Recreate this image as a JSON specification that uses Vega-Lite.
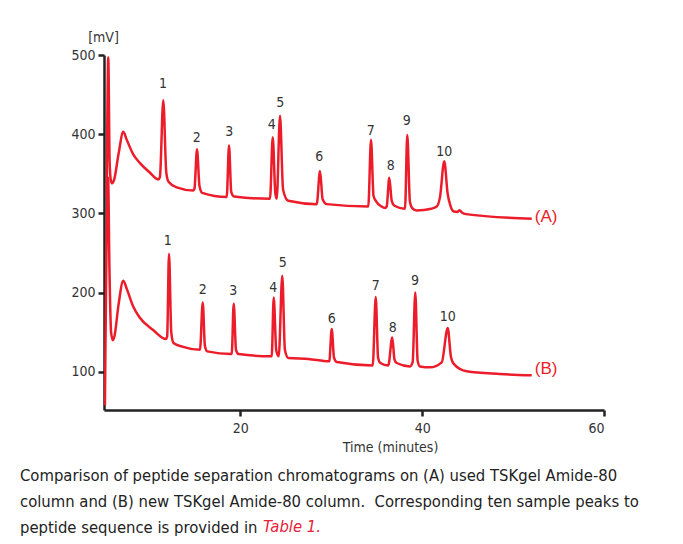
{
  "$schema": "https://vega.github.io/schema/vega-lite/v6.json",
  "width": 500,
  "height": 355,
  "autosize": {"type": "none"},
  "padding": {"left": 104, "top": 55, "right": 79, "bottom": 134},
  "background": "white",
  "config": {"view": {"stroke": null}, "font": "'Liberation Sans Narrow', 'Arial Narrow', 'DejaVu Sans Condensed', 'Liberation Sans', sans-serif"},
  "title": {
    "text": ["Comparison of peptide separation chromatograms on (A) used TSKgel Amide-80", "column and (B) new TSKgel Amide-80 column.\u00a0 Corresponding ten sample peaks to", "peptide sequence is provided in"],
    "subtitle": "Table 1.",
    "orient": "bottom",
    "anchor": "start",
    "frame": "group",
    "dx": -84,
    "offset": 14,
    "font": "'Liberation Sans Narrow', 'Arial Narrow', 'DejaVu Sans Condensed', 'Liberation Sans', sans-serif",
    "fontSize": 16.5,
    "fontWeight": "normal",
    "color": "#222222",
    "lineHeight": 26,
    "subtitleFont": "'Liberation Sans Narrow', 'Arial Narrow', 'DejaVu Sans Condensed', 'Liberation Sans', sans-serif",
    "subtitleFontSize": 16.5,
    "subtitleFontStyle": "italic",
    "subtitleColor": "#e8203a",
    "subtitlePadding": -18,
    "encode": {"subtitle": {"update": {"dx": {"value": 159}}}}
  },
  "datasets": {
    "traces": [
      {"series": "A", "t": 5.3, "mv": 320},
      {"series": "A", "t": 5.47, "mv": 497},
      {"series": "A", "t": 5.62, "mv": 365},
      {"series": "A", "t": 5.75, "mv": 342},
      {"series": "A", "t": 5.9, "mv": 338},
      {"series": "A", "t": 6.1, "mv": 342},
      {"series": "A", "t": 6.6, "mv": 375},
      {"series": "A", "t": 7.12, "mv": 403},
      {"series": "A", "t": 7.5, "mv": 393},
      {"series": "A", "t": 8.2, "mv": 375},
      {"series": "A", "t": 8.96, "mv": 363.5},
      {"series": "A", "t": 10.0, "mv": 352},
      {"series": "A", "t": 10.97, "mv": 343},
      {"series": "A", "t": 11.15, "mv": 346},
      {"series": "A", "t": 11.52, "mv": 443},
      {"series": "A", "t": 11.85, "mv": 352},
      {"series": "A", "t": 12.1, "mv": 340},
      {"series": "A", "t": 13.0, "mv": 333},
      {"series": "A", "t": 14.82, "mv": 329},
      {"series": "A", "t": 14.95, "mv": 331},
      {"series": "A", "t": 15.23, "mv": 381},
      {"series": "A", "t": 15.5, "mv": 335},
      {"series": "A", "t": 15.8, "mv": 326},
      {"series": "A", "t": 18.5, "mv": 320.7},
      {"series": "A", "t": 18.75, "mv": 385.8},
      {"series": "A", "t": 19.0, "mv": 327},
      {"series": "A", "t": 19.3, "mv": 321.5},
      {"series": "A", "t": 23.26, "mv": 318.5},
      {"series": "A", "t": 23.56, "mv": 396.3},
      {"series": "A", "t": 23.85, "mv": 325},
      {"series": "A", "t": 24.0, "mv": 318.5},
      {"series": "A", "t": 24.36, "mv": 423.2},
      {"series": "A", "t": 24.7, "mv": 330},
      {"series": "A", "t": 25.27, "mv": 316},
      {"series": "A", "t": 28.4, "mv": 311.8},
      {"series": "A", "t": 28.76, "mv": 353.5},
      {"series": "A", "t": 29.05, "mv": 318},
      {"series": "A", "t": 29.5, "mv": 311.8},
      {"series": "A", "t": 34.07, "mv": 308.8},
      {"series": "A", "t": 34.37, "mv": 393},
      {"series": "A", "t": 34.65, "mv": 322},
      {"series": "A", "t": 34.95, "mv": 315},
      {"series": "A", "t": 35.5, "mv": 309},
      {"series": "A", "t": 35.91, "mv": 306.8},
      {"series": "A", "t": 36.1, "mv": 309},
      {"series": "A", "t": 36.38, "mv": 345},
      {"series": "A", "t": 36.65, "mv": 316},
      {"series": "A", "t": 36.95, "mv": 309.8},
      {"series": "A", "t": 38.11, "mv": 306},
      {"series": "A", "t": 38.36, "mv": 398.9},
      {"series": "A", "t": 38.65, "mv": 315},
      {"series": "A", "t": 38.9, "mv": 306.8},
      {"series": "A", "t": 39.4, "mv": 303.8},
      {"series": "A", "t": 41.0, "mv": 306},
      {"series": "A", "t": 41.6, "mv": 308.8},
      {"series": "A", "t": 41.95, "mv": 320},
      {"series": "A", "t": 42.43, "mv": 366},
      {"series": "A", "t": 42.8, "mv": 325},
      {"series": "A", "t": 43.1, "mv": 310},
      {"series": "A", "t": 43.5, "mv": 302.5},
      {"series": "A", "t": 43.9, "mv": 302},
      {"series": "A", "t": 44.1, "mv": 304},
      {"series": "A", "t": 44.4, "mv": 301},
      {"series": "A", "t": 44.8, "mv": 299.2},
      {"series": "A", "t": 52.05, "mv": 293.3},
      {"series": "B", "t": 5.1, "mv": 58},
      {"series": "B", "t": 5.45, "mv": 345},
      {"series": "B", "t": 5.6, "mv": 230},
      {"series": "B", "t": 5.78, "mv": 150},
      {"series": "B", "t": 5.97, "mv": 140},
      {"series": "B", "t": 6.15, "mv": 145},
      {"series": "B", "t": 6.6, "mv": 185},
      {"series": "B", "t": 7.12, "mv": 215},
      {"series": "B", "t": 7.5, "mv": 205},
      {"series": "B", "t": 8.2, "mv": 183},
      {"series": "B", "t": 8.88, "mv": 169.4},
      {"series": "B", "t": 10.4, "mv": 153},
      {"series": "B", "t": 11.82, "mv": 141.6},
      {"series": "B", "t": 11.95, "mv": 145},
      {"series": "B", "t": 12.15, "mv": 249.2},
      {"series": "B", "t": 12.4, "mv": 150},
      {"series": "B", "t": 12.65, "mv": 136.6},
      {"series": "B", "t": 13.6, "mv": 132},
      {"series": "B", "t": 15.56, "mv": 128.1},
      {"series": "B", "t": 15.86, "mv": 187.8},
      {"series": "B", "t": 16.1, "mv": 133},
      {"series": "B", "t": 16.35, "mv": 126},
      {"series": "B", "t": 19.05, "mv": 122.7},
      {"series": "B", "t": 19.27, "mv": 186.1},
      {"series": "B", "t": 19.52, "mv": 128},
      {"series": "B", "t": 19.8, "mv": 122.7},
      {"series": "B", "t": 23.45, "mv": 119.7},
      {"series": "B", "t": 23.67, "mv": 194.1},
      {"series": "B", "t": 23.95, "mv": 127},
      {"series": "B", "t": 24.22, "mv": 119.7},
      {"series": "B", "t": 24.61, "mv": 221.4},
      {"series": "B", "t": 24.9, "mv": 128},
      {"series": "B", "t": 25.27, "mv": 117.7},
      {"series": "B", "t": 27.47, "mv": 116.4},
      {"series": "B", "t": 29.78, "mv": 113.4},
      {"series": "B", "t": 30.05, "mv": 154.2},
      {"series": "B", "t": 30.3, "mv": 118},
      {"series": "B", "t": 30.6, "mv": 112.6},
      {"series": "B", "t": 34.56, "mv": 108.3},
      {"series": "B", "t": 34.89, "mv": 194.6},
      {"series": "B", "t": 35.15, "mv": 118},
      {"series": "B", "t": 35.4, "mv": 111.3},
      {"series": "B", "t": 36.27, "mv": 108.3},
      {"series": "B", "t": 36.71, "mv": 143.6},
      {"series": "B", "t": 36.95, "mv": 116},
      {"series": "B", "t": 37.2, "mv": 111.3},
      {"series": "B", "t": 38.66, "mv": 107},
      {"series": "B", "t": 38.95, "mv": 112},
      {"series": "B", "t": 39.24, "mv": 200.4},
      {"series": "B", "t": 39.5, "mv": 114},
      {"series": "B", "t": 39.75, "mv": 107},
      {"series": "B", "t": 40.86, "mv": 105.8},
      {"series": "B", "t": 42.15, "mv": 112.1},
      {"series": "B", "t": 42.81, "mv": 155.5},
      {"series": "B", "t": 43.15, "mv": 120},
      {"series": "B", "t": 43.45, "mv": 110.5},
      {"series": "B", "t": 44.9, "mv": 100.8},
      {"series": "B", "t": 48.56, "mv": 97.5},
      {"series": "B", "t": 52.05, "mv": 95.7}
    ],
    "peaks": [
      {"series": "A", "label": "1", "t": 11.49, "mv": 463.8},
      {"series": "A", "label": "2", "t": 15.2, "mv": 395.5},
      {"series": "A", "label": "3", "t": 18.78, "mv": 403},
      {"series": "A", "label": "4", "t": 23.45, "mv": 412.2},
      {"series": "A", "label": "5", "t": 24.39, "mv": 439.8},
      {"series": "A", "label": "6", "t": 28.68, "mv": 371.5},
      {"series": "A", "label": "7", "t": 34.34, "mv": 404.5},
      {"series": "A", "label": "8", "t": 36.54, "mv": 360.4},
      {"series": "A", "label": "9", "t": 38.3, "mv": 416.3},
      {"series": "A", "label": "10", "t": 42.43, "mv": 377.2},
      {"series": "B", "label": "1", "t": 12.0, "mv": 264.7},
      {"series": "B", "label": "2", "t": 15.86, "mv": 202.9},
      {"series": "B", "label": "3", "t": 19.22, "mv": 201.6},
      {"series": "B", "label": "4", "t": 23.62, "mv": 205.9},
      {"series": "B", "label": "5", "t": 24.66, "mv": 237.5},
      {"series": "B", "label": "6", "t": 30.05, "mv": 167.2},
      {"series": "B", "label": "7", "t": 34.89, "mv": 208.8},
      {"series": "B", "label": "8", "t": 36.76, "mv": 155.5},
      {"series": "B", "label": "9", "t": 39.21, "mv": 214.3},
      {"series": "B", "label": "10", "t": 42.81, "mv": 168.9}
    ],
    "ends": [
      {"series": "A", "label": "(A)", "t": 52.05, "mv": 296},
      {"series": "B", "label": "(B)", "t": 52.05, "mv": 104}
    ]
  },
  "layer": [
    {
      "data": {"name": "traces"},
      "mark": {"type": "line", "interpolate": "monotone", "color": "#ec1c2a", "strokeWidth": 2.5, "clip": true},
      "encoding": {
        "x": {
          "field": "t", "type": "quantitative",
          "scale": {"domain": [5, 60], "nice": false, "zero": false},
          "axis": {
            "values": [20, 40, 60],
            "title": "Time (minutes)",
            "titleFontSize": 14,
            "titleFontWeight": "normal",
            "titleColor": "#333333",
            "titleX": 286,
            "titleY": 37,
            "titleAlign": "center",
            "titleBaseline": "middle",
            "labelFontSize": 14,
            "labelColor": "#333333",
            "labelPadding": 5,
            "grid": false,
            "domainColor": "#222222",
            "domainWidth": 2.5,
            "tickColor": "#222222",
            "tickWidth": 2.5,
            "tickSize": 6
          }
        },
        "y": {
          "field": "mv", "type": "quantitative",
          "scale": {"domain": [52, 500], "nice": false, "zero": false},
          "axis": {
            "values": [100, 200, 300, 400, 500],
            "title": "[mV]",
            "titleFontSize": 14,
            "titleFontWeight": "normal",
            "titleColor": "#333333",
            "titleAngle": 0,
            "titleX": -1,
            "titleY": -18,
            "titleAlign": "center",
            "titleBaseline": "middle",
            "labelFontSize": 14,
            "labelColor": "#333333",
            "labelPadding": 3,
            "grid": false,
            "domainColor": "#222222",
            "domainWidth": 2.5,
            "tickColor": "#222222",
            "tickWidth": 2.5,
            "tickSize": 6
          }
        },
        "detail": {"field": "series"}
      }
    },
    {
      "data": {"name": "peaks"},
      "mark": {"type": "text", "fontSize": 14, "color": "#333333", "baseline": "middle", "align": "center"},
      "encoding": {
        "x": {"field": "t", "type": "quantitative"},
        "y": {"field": "mv", "type": "quantitative"},
        "text": {"field": "label"}
      }
    },
    {
      "data": {"name": "ends"},
      "mark": {"type": "text", "font": "Liberation Sans", "fontSize": 17, "color": "#ec1c2a", "baseline": "middle", "align": "left", "dx": 3},
      "encoding": {
        "x": {"field": "t", "type": "quantitative"},
        "y": {"field": "mv", "type": "quantitative"},
        "text": {"field": "label"}
      }
    }
  ]
}
